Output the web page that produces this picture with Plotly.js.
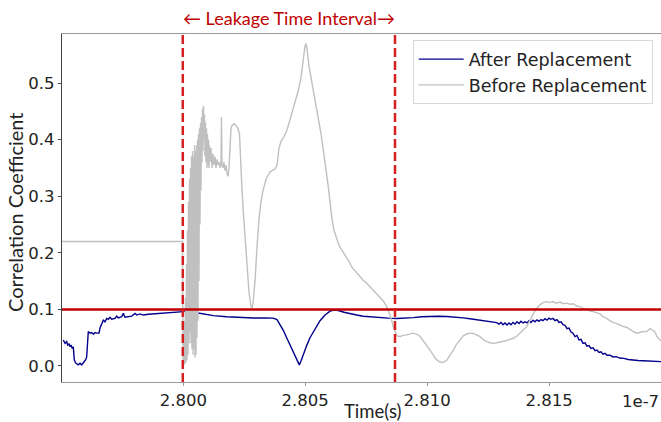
<!DOCTYPE html>
<html>
<head>
<meta charset="utf-8">
<script src="https://cdn.plot.ly/plotly-3.0.1.min.js"></script>
<style>html,body{margin:0;padding:0;background:#fff;}#chart{width:661px;height:422px;}</style>
</head>
<body>
<div id="chart"></div>
<script>
// Time in units of 1e-7 s
const afterTime = [2.795080,2.795150,2.795219,2.795260,2.795314,2.795355,2.795396,2.795449,2.795490,2.795531,2.795588,2.795695,2.795765,2.795834,2.795941,2.795998,2.796039,2.796080,2.796105,2.796175,2.796244,2.796310,2.796380,2.796449,2.796544,2.796585,2.796654,2.796720,2.796790,2.796859,2.796925,2.796995,2.797064,2.797200,2.797269,2.797335,2.797474,2.797540,2.797609,2.797745,2.797884,2.798020,2.798089,2.798225,2.798360,2.798565,2.798840,2.799114,2.799385,2.799660,2.799934,
2.800000,2.800275,2.800549,2.800820,2.801230,2.801779,2.802325,2.802870,2.803350,2.803678,2.803842,2.803965,2.804100,2.804239,2.804375,2.804510,2.804641,2.804756,2.804838,2.804920,2.805059,2.805195,2.805400,2.805605,2.805810,2.806015,2.806179,2.806355,2.806589,2.806835,2.807109,2.807380,2.807724,2.808065,2.808405,2.808749,2.809090,2.809430,2.809774,2.810115,2.810455,2.810799,2.811140,2.811480,2.811824,2.812165,2.812505,2.812849,
2.812944,2.813026,2.813108,2.813190,2.813272,2.813354,2.813436,2.813518,2.813600,2.813682,2.813764,2.813846,2.813928,2.814010,2.814092,2.814174,2.814256,2.814338,2.814420,2.814502,2.814584,2.814666,2.814748,2.814830,2.814912,2.814994,2.815076,2.815158,2.815240,2.815322,2.815404,2.815486,2.815568,2.815650,2.815732,2.815814,2.815896,2.815978,2.816060,2.816142,2.816224,2.816306,2.816388,2.816470,2.816552,2.816634,2.816716,2.816798,2.816880,2.816962,2.817044,2.817126,2.817208,2.817290,2.817372,2.817495,2.817618,2.817741,2.817905,2.818069,2.818233,2.818438,2.818643,2.818848,2.819053,2.819299,2.819545,2.819586];
const afterCorr = [0.046,0.040,0.043,0.037,0.039,0.034,0.037,0.031,0.034,0.011,0.005,0.002,0.005,0.002,0.008,0.011,0.016,0.043,0.061,0.058,0.059,0.056,0.059,0.058,0.058,0.067,0.075,0.081,0.078,0.084,0.0825,0.086,0.0825,0.084,0.088,0.085,0.087,0.093,0.086,0.087,0.088,0.093,0.090,0.092,0.090,0.0915,0.0925,0.093,0.094,0.0948,0.0954,
0.096,0.097,0.094,0.092,0.089,0.087,0.0853,0.0848,0.085,0.0845,0.082,0.0736,0.063,0.050,0.038,0.0265,0.013,0.002,0.010,0.0206,0.036,0.050,0.066,0.080,0.090,0.097,0.099,0.098,0.095,0.092,0.090,0.088,0.0865,0.085,0.0845,0.084,0.0845,0.0855,0.087,0.0878,0.088,0.0875,0.0865,0.085,0.083,0.081,0.078,0.0766,
0.074,0.077,0.073,0.076,0.0724,0.076,0.073,0.077,0.074,0.078,0.075,0.079,0.076,0.078,0.076,0.080,0.077,0.081,0.078,0.0815,0.079,0.082,0.080,0.0835,0.081,0.0845,0.0825,0.084,0.080,0.082,0.077,0.078,0.073,0.072,0.066,0.067,0.060,0.058,0.052,0.054,0.046,0.047,0.040,0.041,0.035,0.036,0.031,0.032,0.027,0.028,0.024,0.025,0.021,0.0225,0.019,0.019,0.016,0.0165,0.014,0.0135,0.0115,0.0112,0.0098,0.0092,0.0088,0.0082,0.0078,0.0077];

const beforeTime = [2.795027,2.799967,2.799988,2.800008,2.800029,2.800049,2.800070,2.800090,2.800111,2.800131,2.800152,2.800172,2.800193,2.800213,2.800234,2.800254,2.800275,2.800295,2.800316,2.800336,2.800357,2.800377,2.800398,2.800418,2.800439,2.800459,2.800480,2.800500,2.800521,2.800541,2.800562,2.800582,2.800603,2.800623,2.800644,2.800664,2.800685,2.800705,2.800726,2.800746,2.800767,2.800787,2.800808,2.800828,2.800849,2.800869,2.800890,2.800910,2.800931,2.800951,2.800972,2.800992,2.801013,2.801033,2.801054,2.801074,2.801095,2.801136,2.801177,2.801218,2.801259,2.801300,2.801341,2.801382,2.801423,2.801464,2.801505,2.801546,2.801566,2.801587,2.801628,2.801669,2.801710,2.801751,2.801792,2.801833,2.801874,2.801915,2.801956,2.801997,2.802079,2.802161,2.802243,2.802304,2.802345,2.802386,2.802448,2.802530,2.802612,2.802694,2.802776,2.802817,2.802858,2.802940,2.803022,2.803104,2.803186,2.803268,2.803391,2.803555,2.803760,2.803842,2.803924,2.804006,2.804129,2.804252,2.804375,2.804498,2.804621,2.804723,2.804826,2.804908,2.804990,2.805031,2.805072,2.805154,2.805236,2.805330,2.805441,2.805535,2.805646,2.805740,2.805851,2.805945,2.806015,2.806084,2.806179,2.806289,2.806384,2.806494,2.806589,2.806699,2.806794,2.806904,2.807040,2.807245,2.807368,2.807519,2.807655,2.807778,2.807929,2.808065,2.808200,2.808339,2.808434,2.808544,2.808618,2.808680,2.808762,2.808885,2.809008,2.809159,2.809295,2.809430,2.809582,2.809705,2.809828,2.809979,2.810115,2.810250,2.810361,2.810525,2.810648,2.810799,2.810935,2.811070,2.811181,2.811345,2.811468,2.811619,2.811755,2.811890,2.812042,2.812165,2.812288,2.812439,2.812575,2.812710,2.812862,2.812985,2.813108,2.813259,2.813395,2.813530,2.813682,2.813805,2.813928,2.814079,2.814215,2.814350,2.814461,2.814625,2.814748,2.814899,2.815035,2.815158,2.815281,2.815445,2.815568,2.815719,2.815855,2.815978,2.816142,2.816265,2.816388,2.816552,2.816675,2.816810,2.816962,2.817085,2.817208,2.817359,2.817495,2.817618,2.817782,2.817905,2.818028,2.818192,2.818315,2.818450,2.818602,2.818725,2.818848,2.818999,2.819135,2.819217,2.819340,2.819422,2.819545,2.819586];
const beforeCorr = [0.220,0.220,0.005,0.040,0.002,0.080,0.004,0.120,0.006,0.180,0.010,0.240,0.020,0.290,0.040,0.330,0.060,0.350,0.040,0.370,0.030,0.380,0.020,0.370,0.030,0.390,0.015,0.380,0.020,0.390,0.050,0.400,0.080,0.410,0.150,0.420,0.250,0.430,0.310,0.440,0.360,0.455,0.380,0.460,0.400,0.445,0.370,0.430,0.360,0.420,0.350,0.410,0.355,0.400,0.350,0.390,0.360,0.385,0.350,0.375,0.355,0.370,0.350,0.365,0.355,0.360,0.350,0.360,0.440,0.355,0.350,0.360,0.345,0.355,0.340,0.335,0.350,0.400,0.420,0.425,0.428,0.425,0.420,0.410,0.380,0.330,0.280,0.230,0.170,0.130,0.105,0.102,0.110,0.150,0.210,0.260,0.290,0.310,0.330,0.343,0.348,0.355,0.385,0.397,0.405,0.417,0.435,0.455,0.475,0.488,0.510,0.540,0.565,0.570,0.560,0.530,0.510,0.488,0.465,0.440,0.410,0.382,0.350,0.317,0.290,0.264,0.240,0.223,0.213,0.205,0.199,0.193,0.185,0.175,0.168,0.158,0.152,0.146,0.140,0.133,0.128,0.122,0.115,0.105,0.095,0.081,0.068,0.060,0.053,0.052,0.054,0.055,0.057,0.058,0.056,0.052,0.045,0.037,0.028,0.019,0.012,0.007,0.006,0.010,0.018,0.028,0.037,0.046,0.053,0.0565,0.058,0.0575,0.055,0.052,0.047,0.043,0.041,0.040,0.041,0.042,0.044,0.045,0.047,0.049,0.053,0.0575,0.063,0.0695,0.080,0.093,0.101,0.108,0.112,0.1136,0.112,0.114,0.111,0.113,0.110,0.111,0.109,0.110,0.106,0.1048,0.102,0.100,0.097,0.096,0.094,0.092,0.087,0.0842,0.080,0.077,0.075,0.0724,0.070,0.068,0.064,0.0607,0.058,0.059,0.061,0.0607,0.066,0.064,0.060,0.052,0.046,0.044];

const threshold = 0.1;
const leakStart = 2.79998;
const leakEnd = 2.80868;
const xTicks = [2.800, 2.805, 2.810, 2.815];
const xTickLabels = ["2.800", "2.805", "2.810", "2.815"];
const yTicks = [0.0, 0.1, 0.2, 0.3, 0.4, 0.5];
const yTickLabels = ["0.0", "0.1", "0.2", "0.3", "0.4", "0.5"];
const seriesNames = ["After Replacement", "Before Replacement"];

const tickFont = {family: "DejaVu Sans", size: 16.5, color: "#222"};

const data = [
  {x: afterTime, y: afterCorr, type: "scatter", mode: "lines", name: seriesNames[0],
   line: {color: "#00008b", width: 1.4}},
  {x: beforeTime, y: beforeCorr, type: "scatter", mode: "lines", name: seriesNames[1],
   line: {color: "#c0c0c0", width: 1.4}}
];

const layout = {
  width: 661, height: 422,
  margin: {l: 62, r: 0, t: 34, b: 40, pad: 0},
  paper_bgcolor: "#fff", plot_bgcolor: "#fff",
  showlegend: true,
  legend: {x: 0.5855, y: 0.982, xanchor: "left", yanchor: "top", itemwidth: 45,
           bgcolor: "rgba(255,255,255,0.85)", bordercolor: "#d9d9d9", borderwidth: 1,
           font: {family: "DejaVu Sans", size: 17.5, color: "#222"}},
  xaxis: {range: [2.795027, 2.819586], tickvals: xTicks, ticktext: xTickLabels,
          showgrid: false, zeroline: false, showline: true, linecolor: "#9a9a9a", linewidth: 1.2,
          mirror: true, ticks: "outside", ticklen: 3, tickcolor: "#9a9a9a",
          tickfont: tickFont},
  yaxis: {range: [-0.0283, 0.5866], tickvals: yTicks, ticktext: yTickLabels,
          showgrid: false, zeroline: false, showline: true, linecolor: "#444", linewidth: 1.2,
          ticks: "outside", ticklen: 3, tickcolor: "#444", tickfont: tickFont},
  shapes: [
    {type: "line", xref: "paper", x0: 0, x1: 1, yref: "y", y0: threshold, y1: threshold,
     line: {color: "#c00000", width: 2.5}},
    {type: "line", xref: "x", x0: leakStart, x1: leakStart, yref: "paper", y0: 0, y1: 1,
     line: {color: "#d62020", width: 2.5, dash: "9px,4px"}},
    {type: "line", xref: "x", x0: leakEnd, x1: leakEnd, yref: "paper", y0: 0, y1: 1,
     line: {color: "#d62020", width: 2.5, dash: "9px,4px"}}
  ],
  annotations: [
    {text: "Correlation Coefficient", xref: "paper", yref: "paper", x: -0.0785, y: 0.4885,
     xanchor: "center", yanchor: "middle", textangle: -90, showarrow: false,
     font: {family: "Lato", size: 20, color: "#222"}},
    {text: "Time(s)", xref: "paper", yref: "paper", x: 0.5184, y: -0.083,
     xanchor: "center", yanchor: "middle", showarrow: false,
     font: {family: "Lato", size: 18.5, color: "#222"}},
    {text: "1e-7", xref: "paper", yref: "paper", x: 0.965, y: -0.0566,
     xanchor: "center", yanchor: "middle", showarrow: false, font: tickFont},
    {text: "\u2190 Leakage Time Interval\u2192", xref: "paper", yref: "paper", x: 0.379, y: 1.0474,
     xanchor: "center", yanchor: "middle", showarrow: false,
     font: {family: "Lato", size: 18, color: "#c00000"}}
  ]
};

Plotly.newPlot("chart", data, layout, {displayModeBar: false, staticPlot: true});
</script>
</body>
</html>
